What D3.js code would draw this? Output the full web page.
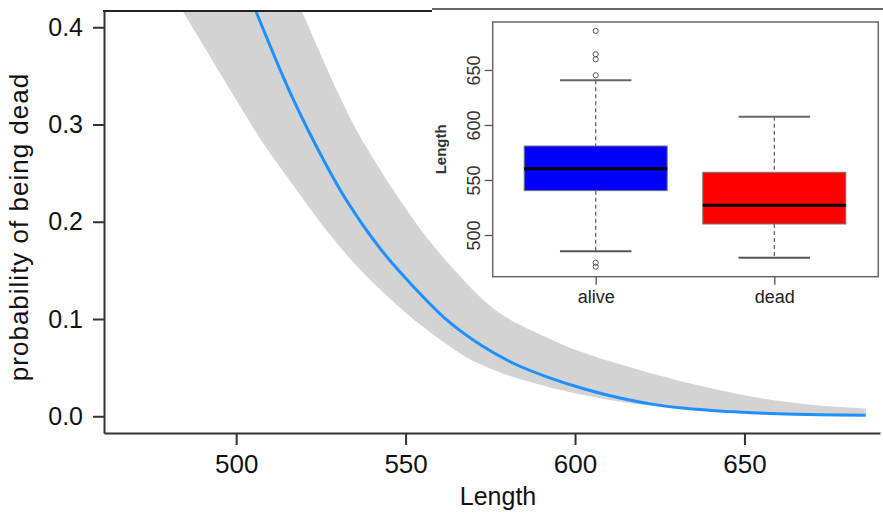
<!DOCTYPE html>
<html>
<head>
<meta charset="utf-8">
<script src="https://cdn.jsdelivr.net/npm/d3@7.9.0/dist/d3.min.js"></script>
<style>
  html, body { margin: 0; padding: 0; background: #fff; }
  svg { display: block; font-family: "Liberation Sans", Arial, sans-serif; }
</style>
</head>
<body>
<svg id="chart" width="883" height="514"></svg>
<script>
// fitted probability curve (Length -> probability of being dead)
const fitLength = [505.8, 515.9, 524.2, 532.2, 542.6, 552.4, 562.5, 572.3, 582.1, 592.1, 602.8, 612.9, 622.7, 632.5, 642.5, 652.3, 662.1, 672.1, 685.8];
const fitProb   = [0.4167, 0.333, 0.274, 0.224, 0.172, 0.133, 0.098, 0.073, 0.054, 0.040, 0.028, 0.0190, 0.0125, 0.0082, 0.0054, 0.0036, 0.0024, 0.0016, 0.0011];

// confidence band, lower edge
const ciLoLength = [484.2, 500.1, 507.9, 518.0, 527.8, 537.6, 547.6, 554.4, 561.0, 569.3, 579.1, 589.1, 598.9, 610.8, 622.7, 637.5, 652.3, 667.0, 685.8];
const ciLoProb   = [0.4167, 0.325, 0.281, 0.232, 0.186, 0.147, 0.114, 0.094, 0.077, 0.058, 0.0435, 0.033, 0.0245, 0.0165, 0.0105, 0.0058, 0.003, 0.0016, 0.0008];

// confidence band, upper edge
const ciHiLength = [519.4, 529.9, 535.7, 542.6, 549.0, 556.4, 565.3, 573.1, 579.1, 589.1, 598.9, 610.8, 622.7, 632.5, 642.5, 652.3, 662.1, 672.1, 685.8];
const ciHiProb   = [0.4167, 0.334, 0.293, 0.253, 0.219, 0.183, 0.147, 0.119, 0.103, 0.085, 0.070, 0.056, 0.044, 0.035, 0.027, 0.020, 0.015, 0.011, 0.008];

const xTicks = [500, 550, 600, 650];
const yTicks = [0.0, 0.1, 0.2, 0.3, 0.4];

// inset boxplot
const groups     = ['alive', 'dead'];
const boxFill    = ['#0000ff', '#ff0000'];
const boxQ1      = [540.3, 510.0];
const boxMedian  = [560.3, 527.0];
const boxQ3      = [580.9, 557.0];
const whiskerLo  = [485.2, 479.4];
const whiskerHi  = [640.6, 607.5];
const outlierGroup = ['alive', 'alive', 'alive', 'alive', 'alive', 'alive'];
const outlierValue = [685.5, 664.3, 659.7, 645.2, 474.8, 471.2];
const insetTicks = [500, 550, 600, 650];

const svg = d3.select('#chart');

// ---- main plot ----
const plot = { left: 104, right: 880, top: 11, bottom: 433 };
const x = d3.scaleLinear().domain([461, 690]).range([plot.left, plot.right]);
const y = d3.scaleLinear().domain([-0.0172, 0.4167]).range([plot.bottom, plot.top]);

svg.append('clipPath').attr('id', 'plotclip')
  .append('rect')
  .attr('x', plot.left).attr('y', plot.top)
  .attr('width', plot.right - plot.left).attr('height', plot.bottom - plot.top);

const edge = d3.line().x(d => x(d[0])).y(d => y(d[1])).curve(d3.curveCatmullRom.alpha(0.5));
const lo = ciLoLength.map((d, i) => [d, ciLoProb[i]]);
const hi = ciHiLength.map((d, i) => [d, ciHiProb[i]]).reverse();

svg.append('path')
  .attr('clip-path', 'url(#plotclip)')
  .attr('d', edge(lo) + 'L' + edge(hi).slice(1) + 'Z')
  .attr('fill', '#d3d3d3');

svg.append('path')
  .attr('clip-path', 'url(#plotclip)')
  .datum(fitLength.map((d, i) => [d, fitProb[i]]))
  .attr('d', edge)
  .attr('fill', 'none')
  .attr('stroke', '#1e90ff')
  .attr('stroke-width', 3);

// axes
const xAxis = svg.append('g')
  .attr('transform', `translate(0,${plot.bottom})`)
  .call(d3.axisBottom(x).tickValues(xTicks).tickSizeInner(12).tickSizeOuter(0).tickPadding(10));
const yAxis = svg.append('g')
  .attr('transform', `translate(${plot.left},0)`)
  .call(d3.axisLeft(y).tickValues(yTicks).tickFormat(d3.format('.1f')).tickSizeInner(11).tickSizeOuter(0).tickPadding(10));

[xAxis, yAxis].forEach(g => {
  g.select('.domain').attr('stroke', '#333').attr('stroke-width', 2);
  g.selectAll('.tick line').attr('stroke', '#333').attr('stroke-width', 2);
  g.selectAll('.tick text').attr('fill', '#111').attr('font-family', '"Liberation Sans", Arial, sans-serif');
});
xAxis.selectAll('.tick text').attr('font-size', 26);
yAxis.selectAll('.tick text').attr('font-size', 25);

// top frame line
svg.append('line')
  .attr('x1', plot.left - 1).attr('x2', plot.right)
  .attr('y1', plot.top).attr('y2', plot.top)
  .attr('stroke', '#222').attr('stroke-width', 2);

svg.append('text')
  .attr('transform', 'translate(28,227) rotate(-90)')
  .attr('text-anchor', 'middle')
  .attr('font-size', 26)
  .attr('letter-spacing', 1)
  .attr('fill', '#111')
  .text('probability of being dead');

svg.append('text')
  .attr('x', 498).attr('y', 505)
  .attr('text-anchor', 'middle')
  .attr('font-size', 25)
  .attr('fill', '#111')
  .text('Length');

// ---- inset ----
const inset = { left: 432, top: 9, boxLeft: 492.7, boxRight: 878.3, boxTop: 22, boxBottom: 276.7 };

svg.append('rect')
  .attr('x', inset.left).attr('y', inset.top)
  .attr('width', 883 - inset.left).attr('height', 222)
  .attr('fill', '#fff');
svg.append('line')
  .attr('x1', inset.left).attr('x2', 883)
  .attr('y1', inset.top).attr('y2', inset.top)
  .attr('stroke', '#666').attr('stroke-width', 2);

const xi = d3.scalePoint().domain(groups).range([595.7, 774.3]);
const yi = d3.scaleLinear().domain([462.1, 693.6]).range([inset.boxBottom, inset.boxTop]);
const boxW = 143;
const capW = boxW / 2;

const boxes = svg.append('g').selectAll('g')
  .data(groups.map((g, i) => ({ g, i })))
  .join('g');

boxes.append('line')
  .attr('x1', d => xi(d.g)).attr('x2', d => xi(d.g))
  .attr('y1', d => yi(whiskerHi[d.i])).attr('y2', d => yi(boxQ3[d.i]))
  .attr('stroke', '#666').attr('stroke-width', 1.3).attr('stroke-dasharray', '4,3');
boxes.append('line')
  .attr('x1', d => xi(d.g)).attr('x2', d => xi(d.g))
  .attr('y1', d => yi(boxQ1[d.i])).attr('y2', d => yi(whiskerLo[d.i]))
  .attr('stroke', '#666').attr('stroke-width', 1.3).attr('stroke-dasharray', '4,3');
boxes.append('line')
  .attr('x1', d => xi(d.g) - capW / 2).attr('x2', d => xi(d.g) + capW / 2)
  .attr('y1', d => yi(whiskerHi[d.i])).attr('y2', d => yi(whiskerHi[d.i]))
  .attr('stroke', '#666').attr('stroke-width', 2);
boxes.append('line')
  .attr('x1', d => xi(d.g) - capW / 2).attr('x2', d => xi(d.g) + capW / 2)
  .attr('y1', d => yi(whiskerLo[d.i])).attr('y2', d => yi(whiskerLo[d.i]))
  .attr('stroke', '#555').attr('stroke-width', 2);
boxes.append('rect')
  .attr('x', d => xi(d.g) - boxW / 2).attr('width', boxW)
  .attr('y', d => yi(boxQ3[d.i])).attr('height', d => yi(boxQ1[d.i]) - yi(boxQ3[d.i]))
  .attr('fill', d => boxFill[d.i])
  .attr('stroke', '#777').attr('stroke-width', 1);
boxes.append('line')
  .attr('x1', d => xi(d.g) - boxW / 2).attr('x2', d => xi(d.g) + boxW / 2)
  .attr('y1', d => yi(boxMedian[d.i])).attr('y2', d => yi(boxMedian[d.i]))
  .attr('stroke', '#000').attr('stroke-width', 3);

svg.append('g').selectAll('circle')
  .data(outlierValue.map((v, i) => ({ v, g: outlierGroup[i] })))
  .join('circle')
  .attr('cx', d => xi(d.g)).attr('cy', d => yi(d.v))
  .attr('r', 2.6)
  .attr('fill', 'none').attr('stroke', '#555').attr('stroke-width', 1);

svg.append('rect')
  .attr('x', inset.boxLeft).attr('y', inset.boxTop)
  .attr('width', inset.boxRight - inset.boxLeft).attr('height', inset.boxBottom - inset.boxTop)
  .attr('fill', 'none').attr('stroke', '#666').attr('stroke-width', 1.5);

// inset axes
const yiAxis = svg.append('g')
  .attr('transform', `translate(${inset.boxLeft},0)`)
  .call(d3.axisLeft(yi).tickValues(insetTicks).tickSize(8).tickPadding(5));
yiAxis.select('.domain').remove();
yiAxis.selectAll('.tick line').attr('stroke', '#555').attr('stroke-width', 1.3);
yiAxis.selectAll('.tick text')
  .attr('font-size', 18).attr('fill', '#333')
  .attr('font-family', '"Liberation Sans", Arial, sans-serif')
  .attr('text-anchor', 'middle').attr('dy', null)
  .attr('transform', 'translate(-19,0) rotate(-90)')
  .attr('x', 0).attr('y', 6);

const xiAxis = svg.append('g')
  .attr('transform', `translate(0,${inset.boxBottom})`)
  .call(d3.axisBottom(xi).tickSize(8).tickPadding(6));
xiAxis.select('.domain').remove();
xiAxis.selectAll('.tick line').attr('stroke', '#555').attr('stroke-width', 1.3);
xiAxis.selectAll('.tick text')
  .attr('font-size', 18).attr('fill', '#222')
  .attr('font-family', '"Liberation Sans", Arial, sans-serif');

svg.append('text')
  .attr('transform', `translate(446,${(inset.boxTop + inset.boxBottom) / 2}) rotate(-90)`)
  .attr('text-anchor', 'middle')
  .attr('font-size', 15).attr('font-weight', 'bold')
  .attr('fill', '#333')
  .text('Length');
</script>
</body>
</html>
